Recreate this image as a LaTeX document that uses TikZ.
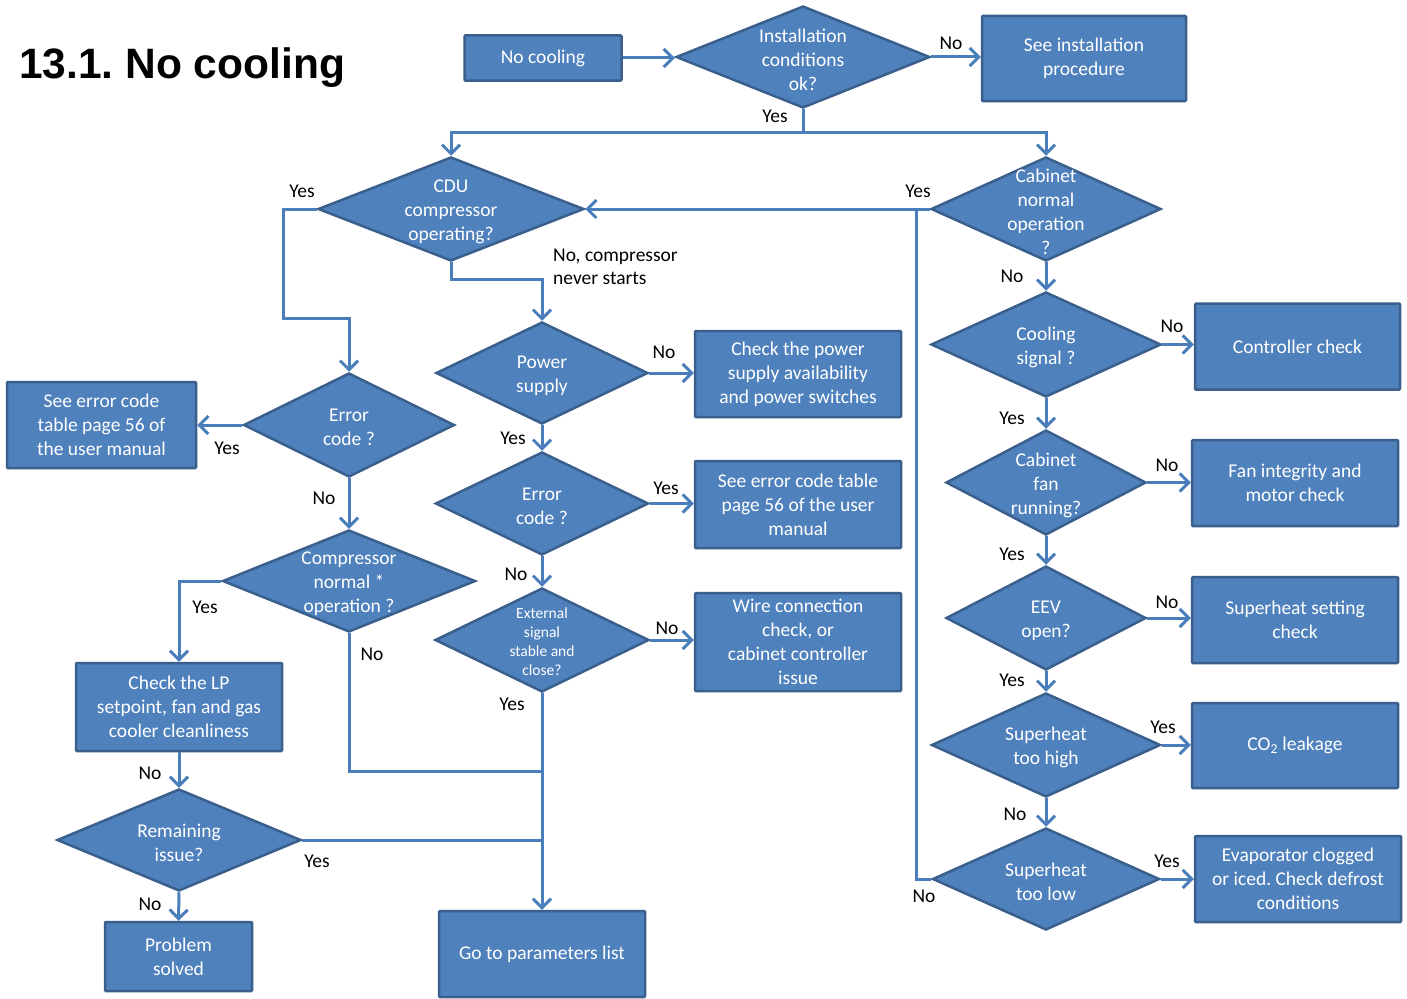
\documentclass[tikz,border=0pt]{standalone}
\usepackage{fontspec}
\setmainfont{Carlito}
\newfontfamily\titlefont{Liberation Sans}
\usetikzlibrary{shapes.geometric,arrows.meta}
\definecolor{fillc}{HTML}{4F81BD}
\definecolor{bordc}{HTML}{3A5F8C}
\definecolor{linec}{HTML}{4A7EBB}
\frenchspacing
\tikzset{
  box/.style={rectangle, draw=bordc, fill=fillc, line width=2.5pt, text=white, align=center,
    font=\fontsize{19.5}{24}\selectfont, inner sep=0pt, rounded corners=1pt},
  dia/.style={diamond, draw=bordc, fill=fillc, line width=2.5pt, inner sep=0pt},
  dtxt/.style={text=white, align=center, font=\fontsize{19.5}{24}\selectfont, inner sep=0pt, yshift=-2.5pt},
  stxt/.style={text=white, align=center, font=\fontsize{15.5}{19}\selectfont, inner sep=0pt, yshift=-2pt},
  lbl/.style={text=black, font=\fontsize{19.5}{24}\selectfont, inner sep=0pt},
  arr/.style={draw=linec, line width=3pt, -{Straight Barb[length=9pt,width=18pt,line width=3pt]}},
  ln/.style={draw=linec, line width=3pt}
}
\begin{document}
\begin{tikzpicture}[x=1pt,y=-1pt]
\fill[white] (0,0) rectangle (1407,998);
\useasboundingbox (0,0) rectangle (1407,998);

% title
\node[anchor=base west, inner sep=0pt, font=\titlefont\bfseries\fontsize{42.5}{50}\selectfont] (title) at (19,78) {13.1. No cooling};

% boxes
\node[box, minimum width=157pt, minimum height=45pt] (nocool) at (543,58) {No cooling};
\node[box, minimum width=204pt, minimum height=85pt] (seeinst) at (1084,58.5) {See installation\\procedure};
\node[box, minimum width=189pt, minimum height=86pt] (seeerr1) at (101.5,425) {See error code\\table page 56 of\\the user manual};
\node[box, minimum width=206pt, minimum height=86pt] (chkpow) at (798,374) {Check the power\\supply availability\\and power switches};
\node[box, minimum width=206pt, minimum height=87pt] (seeerr2) at (798,504.5) {See error code table\\page 56 of the user\\manual};
\node[box, minimum width=206pt, minimum height=98pt] (wire) at (798,642) {Wire connection\\check, or\\cabinet controller\\issue};
\node[box, minimum width=206pt, minimum height=88pt] (chklp) at (179,707) {Check the LP\\setpoint, fan and gas\\cooler cleanliness};
\node[box, minimum width=147pt, minimum height=69pt] (solved) at (178.5,956.5) {Problem\\solved};
\node[box, minimum width=206pt, minimum height=86pt] (params) at (542,954) {Go to parameters list};
\node[box, minimum width=205pt, minimum height=86pt] (ctrl) at (1297.5,346.5) {Controller check};
\node[box, minimum width=206pt, minimum height=86pt] (fanchk) at (1295,483) {Fan integrity and\\motor check};
\node[box, minimum width=206pt, minimum height=86pt] (shset) at (1295,620) {Superheat setting\\check};
\node[box, minimum width=206pt, minimum height=85pt] (co2) at (1295,745.5) {CO\textsubscript{2} leakage};
\node[box, minimum width=206pt, minimum height=86pt] (evap) at (1298,879) {Evaporator clogged\\or iced. Check defrost\\conditions};

% diamonds
\node[dia, minimum width=254pt, minimum height=102pt] (inst) at (803,57) {};
\node[dtxt] (instt) at (inst) {Installation\\conditions\\ok?};
\node[dia, minimum width=266pt, minimum height=104pt] (cdu) at (451,209) {};
\node[dtxt] (cdut) at (cdu) {CDU\\compressor\\operating?};
\node[dia, minimum width=230pt, minimum height=104pt] (cab) at (1046,209) {};
\node[dtxt] (cabt) at (cab) {Cabinet\\normal\\operation\\?};
\node[dia, minimum width=211pt, minimum height=104pt] (err1) at (349,425) {};
\node[dtxt] (err1t) at (err1) {Error\\code ?};
\node[dia, minimum width=253pt, minimum height=102pt] (comp) at (349,581) {};
\node[dtxt] (compt) at (comp) {Compressor\\normal *\\operation ?};
\node[dia, minimum width=244pt, minimum height=102pt] (rem) at (179,840) {};
\node[dtxt] (remt) at (rem) {Remaining\\issue?};
\node[dia, minimum width=212pt, minimum height=102pt] (pow) at (542,373) {};
\node[dtxt] (powt) at (pow) {Power\\supply};
\node[dia, minimum width=213pt, minimum height=103pt] (err2) at (542,503.5) {};
\node[dtxt] (err2t) at (err2) {Error\\code ?};
\node[dia, minimum width=214pt, minimum height=104pt] (ext) at (542,640) {};
\node[stxt] (extt) at (ext) {External\\signal\\stable and\\close?};
\node[dia, minimum width=230pt, minimum height=105pt] (cool) at (1046,344.5) {};
\node[dtxt] (coolt) at (cool) {Cooling\\signal ?};
\node[dia, minimum width=200pt, minimum height=105pt] (fan) at (1046,482.5) {};
\node[dtxt] (fant) at (fan) {Cabinet\\fan\\running?};
\node[dia, minimum width=200pt, minimum height=104pt] (eev) at (1046,618) {};
\node[dtxt] (eevt) at (eev) {EEV\\open?};
\node[dia, minimum width=229pt, minimum height=104pt] (shhigh) at (1046,745) {};
\node[dtxt] (shhight) at (shhigh) {Superheat\\too high};
\node[dia, minimum width=227pt, minimum height=102pt] (slow) at (1046,879) {};
\node[dtxt] (slowt) at (slow) {Superheat\\too low};

% junction coordinates
\coordinate (jtop) at (803,132);
\coordinate (jleft) at (916,209);
\coordinate (c1) at (283,318);
\coordinate (jpar1) at (542,771);
\coordinate (jpar2) at (542,840);

% connectors
\draw[arr] (nocool.east) -- (inst.west |- nocool.east);
\draw[arr] (inst.east) -- (seeinst.west |- inst.east);
\draw[arr] (inst.south) -- (jtop) -| (cdu.north);
\draw[arr] (jtop) -| (cab.north);
\draw[arr] (cab.west) -- (cdu.east);
\draw[ln] (slow.west) -| (jleft);
\draw[arr] (cdu.west) -| (c1) -| (err1.north);
\draw[arr] (cdu.south) -- ++(0,17) -| (pow.north);
\draw[arr] (err1.west) -- (seeerr1.east |- err1.west);
\draw[arr] (err1.south) -- (comp.north);
\draw[arr] (comp.west) -| (chklp.north);
\draw[ln] (comp.south) |- (jpar1);
\draw[arr] (chklp.south) -- (rem.north);
\draw[ln] (rem.east) -- (jpar2);
\draw[arr] (rem.south) -- (solved.north);
\draw[arr] (ext.south) -- (params.north);
\draw[arr] (pow.east) -- (chkpow.west |- pow.east);
\draw[arr] (pow.south) -- (err2.north);
\draw[arr] (err2.east) -- (seeerr2.west |- err2.east);
\draw[arr] (err2.south) -- (ext.north);
\draw[arr] (ext.east) -- (wire.west |- ext.east);
\draw[arr] (cab.south) -- (cool.north);
\draw[arr] (cool.east) -- (ctrl.west |- cool.east);
\draw[arr] (cool.south) -- (fan.north);
\draw[arr] (fan.east) -- (fanchk.west |- fan.east);
\draw[arr] (fan.south) -- (eev.north);
\draw[arr] (eev.east) -- (shset.west |- eev.east);
\draw[arr] (eev.south) -- (shhigh.north);
\draw[arr] (shhigh.east) -- (co2.west |- shhigh.east);
\draw[arr] (shhigh.south) -- (slow.north);
\draw[arr] (slow.east) -- (evap.west |- slow.east);

% labels
\node[lbl] (l1) at (951,43) {No};
\node[lbl] (l2) at (775,116) {Yes};
\node[lbl] (l3) at (302,191) {Yes};
\node[lbl] (l4) at (918,191) {Yes};
\node[lbl, anchor=west, align=left, font=\fontsize{19.5}{23}\selectfont] (l5) at (553,267) {No, compressor\\never starts};
\node[lbl] (l6) at (664,352) {No};
\node[lbl] (l7) at (513,438) {Yes};
\node[lbl] (l8) at (666,488) {Yes};
\node[lbl] (l9) at (516,574) {No};
\node[lbl] (l10) at (667,628) {No};
\node[lbl] (l11) at (512,704) {Yes};
\node[lbl] (l12) at (227,448) {Yes};
\node[lbl] (l13) at (324,498) {No};
\node[lbl] (l14) at (205,607) {Yes};
\node[lbl] (l15) at (372,654) {No};
\node[lbl] (l16) at (150,773) {No};
\node[lbl] (l17) at (317,861) {Yes};
\node[lbl] (l18) at (150,904) {No};
\node[lbl] (l19) at (1012,276) {No};
\node[lbl] (l20) at (1172,326) {No};
\node[lbl] (l21) at (1012,418) {Yes};
\node[lbl] (l22) at (1167,465) {No};
\node[lbl] (l23) at (1012,554) {Yes};
\node[lbl] (l24) at (1167,602) {No};
\node[lbl] (l25) at (1012,680) {Yes};
\node[lbl] (l26) at (1163,727) {Yes};
\node[lbl] (l27) at (1015,814) {No};
\node[lbl] (l28) at (1167,861) {Yes};
\node[lbl] (l29) at (924,896) {No};
\end{tikzpicture}
\end{document}
